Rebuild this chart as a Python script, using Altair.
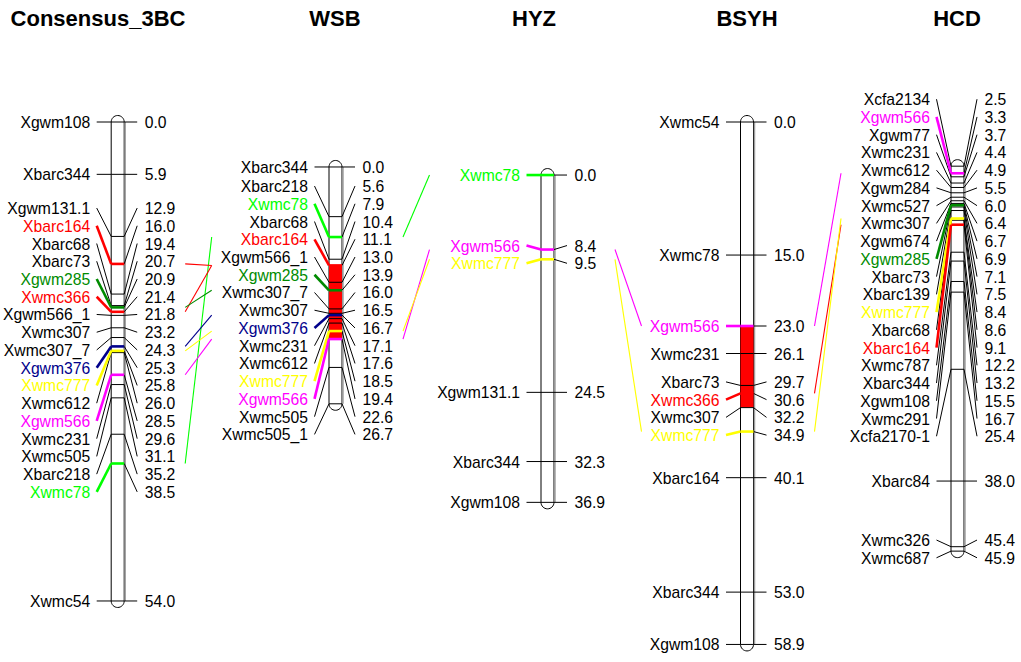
import altair as alt
import pandas as pd

# ---------------- data ----------------
chrom_names = ["Consensus_3BC", "WSB", "HYZ", "BSYH", "HCD"]

cons_markers = ["Xgwm108", "Xbarc344", "Xgwm131.1", "Xbarc164", "Xbarc68", "Xbarc73", "Xgwm285",
                "Xwmc366", "Xgwm566_1", "Xwmc307", "Xwmc307_7", "Xgwm376", "Xwmc777", "Xwmc612",
                "Xgwm566", "Xwmc231", "Xwmc505", "Xbarc218", "Xwmc78", "Xwmc54"]
cons_pos = [0.0, 5.9, 12.9, 16.0, 19.4, 20.7, 20.9, 21.4, 21.8, 23.2, 24.3, 25.3, 25.8, 26.0,
            28.5, 29.6, 31.1, 35.2, 38.5, 54.0]

wsb_markers = ["Xbarc344", "Xbarc218", "Xwmc78", "Xbarc68", "Xbarc164", "Xgwm566_1", "Xgwm285",
               "Xwmc307_7", "Xwmc307", "Xgwm376", "Xwmc231", "Xwmc612", "Xwmc777", "Xgwm566",
               "Xwmc505", "Xwmc505_1"]
wsb_pos = [0.0, 5.6, 7.9, 10.4, 11.1, 13.0, 13.9, 16.0, 16.5, 16.7, 17.1, 17.6, 18.5, 19.4, 22.6, 26.7]

hyz_markers = ["Xwmc78", "Xgwm566", "Xwmc777", "Xgwm131.1", "Xbarc344", "Xgwm108"]
hyz_pos = [0.0, 8.4, 9.5, 24.5, 32.3, 36.9]

bsyh_markers = ["Xwmc54", "Xwmc78", "Xgwm566", "Xwmc231", "Xbarc73", "Xwmc366", "Xwmc307",
                "Xwmc777", "Xbarc164", "Xbarc344", "Xgwm108"]
bsyh_pos = [0.0, 15.0, 23.0, 26.1, 29.7, 30.6, 32.2, 34.9, 40.1, 53.0, 58.9]

hcd_markers = ["Xcfa2134", "Xgwm566", "Xgwm77", "Xwmc231", "Xwmc612", "Xgwm284", "Xwmc527",
               "Xwmc307", "Xgwm674", "Xgwm285", "Xbarc73", "Xbarc139", "Xwmc777", "Xbarc68",
               "Xbarc164", "Xwmc787", "Xbarc344", "Xgwm108", "Xwmc291", "Xcfa2170-1", "Xbarc84",
               "Xwmc326", "Xwmc687"]
hcd_pos = [2.5, 3.3, 3.7, 4.4, 4.9, 5.5, 6.0, 6.4, 6.7, 6.9, 7.1, 7.5, 8.4, 8.6, 9.1, 12.2,
           13.2, 15.5, 16.7, 25.4, 38.0, 45.4, 45.9]

# highlighted markers per chromosome
cons_highlight = ["Xbarc164", "Xgwm285", "Xwmc366", "Xgwm376", "Xwmc777", "Xgwm566", "Xwmc78"]
wsb_highlight = ["Xwmc78", "Xbarc164", "Xgwm285", "Xgwm376", "Xwmc777", "Xgwm566"]
hyz_highlight = ["Xwmc78", "Xgwm566", "Xwmc777"]
bsyh_highlight = ["Xgwm566", "Xwmc366", "Xwmc777"]
hcd_highlight = ["Xgwm566", "Xgwm285", "Xwmc777", "Xbarc164"]

marker_colors = {"Xbarc164": "#FF0000", "Xwmc366": "#FF0000", "Xgwm285": "#008B00",
                 "Xgwm376": "#00008B", "Xwmc777": "#FFFF00", "Xgwm566": "#FF00FF",
                 "Xwmc78": "#00FF00"}

# QTL regions (chromosome, start cM, end cM)
qtl_chrom = ["WSB", "BSYH"]
qtl_start = [11.1, 23.0]
qtl_end = [19.4, 32.2]

# connections between adjacent maps
conn_from_chrom = ["Consensus_3BC"] * 7 + ["WSB"] * 3 + ["HYZ"] * 2 + ["BSYH"] * 3
conn_from_marker = ["Xwmc78", "Xbarc164", "Xwmc366", "Xgwm285", "Xgwm376", "Xwmc777", "Xgwm566",
                    "Xwmc78", "Xgwm566", "Xwmc777",
                    "Xgwm566", "Xwmc777",
                    "Xgwm566", "Xwmc366", "Xwmc777"]
conn_to_marker = ["Xwmc78", "Xbarc164", "Xbarc164", "Xgwm285", "Xgwm376", "Xwmc777", "Xgwm566",
                  "Xwmc78", "Xgwm566", "Xwmc777",
                  "Xgwm566", "Xwmc777",
                  "Xgwm566", "Xbarc164", "Xwmc777"]

# ---------------- layout (not data) ----------------
chrom_cx = [117.7, 335.5, 547.5, 747.0, 957.5]
chrom_offset = [0.0, 5.07, 5.98, 0.0, 2.48]     # vertical shift of each map, cM
title_x = [98, 335, 534, 747, 957]
PX0, PPC = 122.0, 8.87                          # pixel of 0 cM, pixels per cM
W, H = 1021, 662
HALF = 6.5
RAD = HALF / PPC
LABEL_GAP = 2.0
FONT = "Liberation Sans"

all_markers = [cons_markers, wsb_markers, hyz_markers, bsyh_markers, hcd_markers]
all_pos = [cons_pos, wsb_pos, hyz_pos, bsyh_pos, hcd_pos]
all_high = [cons_highlight, wsb_highlight, hyz_highlight, bsyh_highlight, hcd_highlight]


def spread(vals, gap):
    clusters = [[i] for i in range(len(vals))]
    while True:
        lab = []
        for c in clusters:
            mid = (vals[c[0]] + vals[c[-1]]) / 2
            start = mid - (len(c) - 1) * gap / 2
            lab.append([start + j * gap for j in range(len(c))])
        merged = False
        for k in range(len(clusters) - 2, -1, -1):   # lowest overlapping pair first
            if lab[k + 1][0] < lab[k][-1] + gap - 1e-9:
                clusters[k] = clusters[k] + clusters[k + 1]
                del clusters[k + 1]
                merged = True
                break
        if not merged:
            return [p for grp in lab for p in grp]


rows = []
chrom_rows = []
for ci, cname in enumerate(chrom_names):
    cx, off = chrom_cx[ci], chrom_offset[ci]
    labs = spread(all_pos[ci], LABEL_GAP)
    for m, p, lv in zip(all_markers[ci], all_pos[ci], labs):
        hi = m in all_high[ci]
        rows.append(dict(chrom=cname, marker=m, pos=p, v=p + off, lv=lv + off,
                         num=f"{p:.1f}",
                         color=marker_colors[m] if hi else "#000000",
                         w=2.6 if hi else 1.0, hi=hi,
                         xlt=cx - 27.5, xlc=cx - 21.0, xle=cx - HALF,
                         xre=cx + HALF, xrc=cx + 19.5, xrt=cx + 27.0))
    chrom_rows.append(dict(chrom=cname, x1=cx - HALF, x2=cx + HALF,
                           top=all_pos[ci][0] + off - RAD, bot=all_pos[ci][-1] + off + RAD,
                           sx=cx + HALF + 1.0, stop=all_pos[ci][0] + off, sbot=all_pos[ci][-1] + off))
mk = pd.DataFrame(rows)
chroms = pd.DataFrame(chrom_rows)

qtl_rows = []
for c, s, e in zip(qtl_chrom, qtl_start, qtl_end):
    ci = chrom_names.index(c)
    qtl_rows.append(dict(x1=chrom_cx[ci] - HALF, x2=chrom_cx[ci] + HALF,
                         y1=s + chrom_offset[ci], y2=e + chrom_offset[ci]))
qtl = pd.DataFrame(qtl_rows)

conn_rows = []
for fc, fm, tm in zip(conn_from_chrom, conn_from_marker, conn_to_marker):
    ci = chrom_names.index(fc)
    cj = ci + 1
    pa = all_pos[ci][all_markers[ci].index(fm)] + chrom_offset[ci]
    pb = all_pos[cj][all_markers[cj].index(tm)] + chrom_offset[cj]
    conn_rows.append(dict(x1=chrom_cx[ci] + 67.5, x2=chrom_cx[ci] + 94.0, y1=pa, y2=pb,
                          color=marker_colors[fm]))
conns = pd.DataFrame(conn_rows)

titles = pd.DataFrame(dict(name=chrom_names, x=title_x))

xs = alt.Scale(domain=[0, W], nice=False, zero=False)
ys = alt.Scale(domain=[-PX0 / PPC, (H - PX0) / PPC], nice=False, zero=False, reverse=True)
X = lambda f: alt.X(f, type="quantitative", scale=xs, axis=None)
Y = lambda f: alt.Y(f, type="quantitative", scale=ys, axis=None)
COL = alt.Color("color:N", scale=None)

body = alt.Chart(chroms).mark_rect(fill="white", stroke="black", strokeWidth=1,
                                   cornerRadius=HALF).encode(
    x=X("x1"), x2="x2:Q", y=Y("top"), y2="bot:Q")
shade = alt.Chart(chroms).mark_rule(color="#a0a0a0", strokeWidth=1.5).encode(
    x=X("sx"), y=Y("stop"), y2="sbot:Q")
qtl_l = alt.Chart(qtl).mark_rect(fill="#FF0000").encode(
    x=X("x1"), x2="x2:Q", y=Y("y1"), y2="y2:Q")

mk_plain = mk[~mk.hi]
mk_hi = mk[mk.hi]
across_plain = alt.Chart(mk_plain).mark_rule(color="black", strokeWidth=1).encode(
    x=X("xle"), x2="xre:Q", y=Y("v"))
left_plain = alt.Chart(mk_plain).mark_rule(color="black", strokeWidth=1).encode(
    x=X("xlc"), x2="xle:Q", y=Y("lv"), y2="v:Q")
right_all = alt.Chart(mk).mark_rule(color="black", strokeWidth=1).encode(
    x=X("xre"), x2="xrc:Q", y=Y("v"), y2="lv:Q")
across_hi = alt.Chart(mk_hi).mark_rule(strokeWidth=2.6).encode(
    x=X("xle"), x2="xre:Q", y=Y("v"), color=COL)
left_hi = alt.Chart(mk_hi).mark_rule(strokeWidth=2.6).encode(
    x=X("xlc"), x2="xle:Q", y=Y("lv"), y2="v:Q", color=COL)

left_txt = alt.Chart(mk).mark_text(align="right", baseline="middle", font=FONT, fontSize=15.7,
                                   dy=1).encode(
    x=X("xlt"), y=Y("lv"), text="marker:N", color=COL)
right_txt = alt.Chart(mk).mark_text(align="left", baseline="middle", font=FONT, fontSize=15.7,
                                    dy=1, color="black").encode(
    x=X("xrt"), y=Y("lv"), text="num:N")

conn_l = alt.Chart(conns).mark_rule(strokeWidth=1.1).encode(
    x=X("x1"), x2="x2:Q", y=Y("y1"), y2="y2:Q", color=COL)

title_l = alt.Chart(titles).mark_text(align="center", baseline="middle", font=FONT, fontSize=22,
                                      fontWeight="bold", color="black").encode(
    x=X("x"), y=alt.value(18.5), text="name:N")

chart = alt.layer(body, shade, qtl_l, across_plain, left_plain, right_all, across_hi, left_hi,
                  left_txt, right_txt, conn_l, title_l).properties(
    width=W, height=H, padding=0, autosize=alt.AutoSizeParams(type="none"),
    background="white").configure_view(stroke=None)

chart.save("out.html", embed_options={"renderer": "svg", "actions": False})
